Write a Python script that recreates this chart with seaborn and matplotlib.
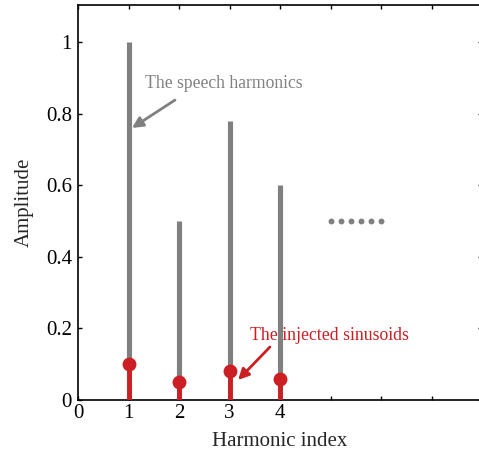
import matplotlib
matplotlib.use("Agg")
import matplotlib.pyplot as plt
import seaborn as sns
import pandas as pd

# Data
harmonic_index = [1, 2, 3, 4]
speech_amp = [1.0, 0.5, 0.78, 0.6]
injected_amp = [0.10, 0.05, 0.08, 0.06]
dots_x = [5.0, 5.2, 5.4, 5.6, 5.8, 6.0]
dots_y = [0.5, 0.5, 0.5, 0.5, 0.5, 0.5]
xtick_vals = [0, 1, 2, 3, 4, 5, 6, 7]
xtick_labels = ["0", "1", "2", "3", "4", "", "", ""]
ytick_vals = [0, 0.2, 0.4, 0.6, 0.8, 1]
ytick_labels = ["0", "0.2", "0.4", "0.6", "0.8", "1"]

sns.set_style("ticks")
plt.rcParams['font.family'] = ['Liberation Serif', 'DejaVu Serif']

GRAY = "#808080"
RED = "#cc1f24"

W, H = 479, 458
fig = plt.figure(figsize=(W / 100, H / 100), dpi=100)
left, right, top, bottom = 78, 482, 4.5, 400
ax = fig.add_axes([left / W, 1 - bottom / H, (right - left) / W, (bottom - top) / H])

df = pd.DataFrame({"x": harmonic_index, "speech": speech_amp, "inj": injected_amp})

ax.vlines(df["x"], 0, df["speech"], color=GRAY, lw=3.7, zorder=2)
ax.vlines(df["x"], 0, df["inj"], color=RED, lw=3.4, zorder=3)
sns.scatterplot(data=df, x="x", y="inj", color=RED, s=100, edgecolor=RED,
                linewidth=0, zorder=4, ax=ax, legend=False)
sns.scatterplot(x=dots_x, y=dots_y, color=GRAY, s=18, linewidth=0, ax=ax, zorder=4)

ax.text(1.33, 0.885, "The speech harmonics", color=GRAY, fontsize=12.7,
        va="center", ha="left")
ax.annotate("", xy=(1.07, 0.76), xytext=(1.92, 0.838),
            arrowprops=dict(arrowstyle="-|>", color=GRAY, lw=2, mutation_scale=16,
                            shrinkA=0, shrinkB=0))
ax.text(3.4, 0.179, "The injected sinusoids", color=RED, fontsize=12.8,
        va="center", ha="left")
ax.annotate("", xy=(3.17, 0.056), xytext=(3.80, 0.148),
            arrowprops=dict(arrowstyle="-|>", color=RED, lw=2, mutation_scale=16,
                            shrinkA=0, shrinkB=0))

ax.set_xlim(0, 8)
ax.set_ylim(0, 1.105)
ax.set_xticks(xtick_vals)
ax.set_xticklabels(xtick_labels)
ax.set_yticks(ytick_vals)
ax.set_yticklabels(ytick_labels)
ax.tick_params(direction="in", top=True, right=True, labelsize=15, length=3.2,
               width=1, colors="black")
ax.tick_params(axis="x", pad=3)
ax.tick_params(axis="y", pad=4.3)
for s in ax.spines.values():
    s.set_linewidth(1.2)
    s.set_color("black")
ax.set_xlabel("Harmonic index", fontsize=15, labelpad=6)
ax.set_ylabel("Amplitude", fontsize=15, labelpad=9)

fig.savefig("out.png", dpi=100)
